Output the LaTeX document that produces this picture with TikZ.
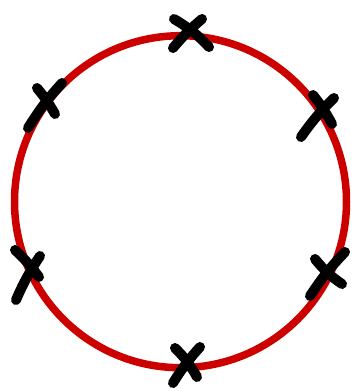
\documentclass[tikz,border=0pt]{standalone}
\definecolor{ringred}{RGB}{205,0,0}
\begin{document}
\begin{tikzpicture}[x=1pt,y=-1pt,
  ring/.style={draw=ringred,line width=7.5pt},
  xstroke/.style={draw=black,line width=10pt,line cap=round}]
\useasboundingbox (0,0) rectangle (357,391);
\coordinate (c) at (180.5,201.7);
\draw[ring] (c) circle[radius=166];
% top
\draw[xstroke] (174,19) to[bend left=8] (209,47);
\draw[xstroke] (202,19) to[bend right=5] (173,48);
% upper left
\draw[xstroke] (37,88) to[bend left=5] (55,114);
\draw[xstroke] (62,83) to[bend right=5] (28,128);
% upper right
\draw[xstroke] (313,95) to[bend left=5] (332,124);
\draw[xstroke] (334,98) to[bend right=5] (301,137);
% lower left
\draw[xstroke] (15,250) to[bend left=5] (39,277);
\draw[xstroke] (40,256) to[bend right=5] (16,300);
% lower right
\draw[xstroke] (315,259) to[bend right=8] (342,284);
\draw[xstroke] (345,252) to[bend right=5] (310,296);
% bottom
\draw[xstroke] (175,348) to[bend left=8] (197,377);
\draw[xstroke] (200,347) to[bend right=5] (173,383);
\end{tikzpicture}
\end{document}
